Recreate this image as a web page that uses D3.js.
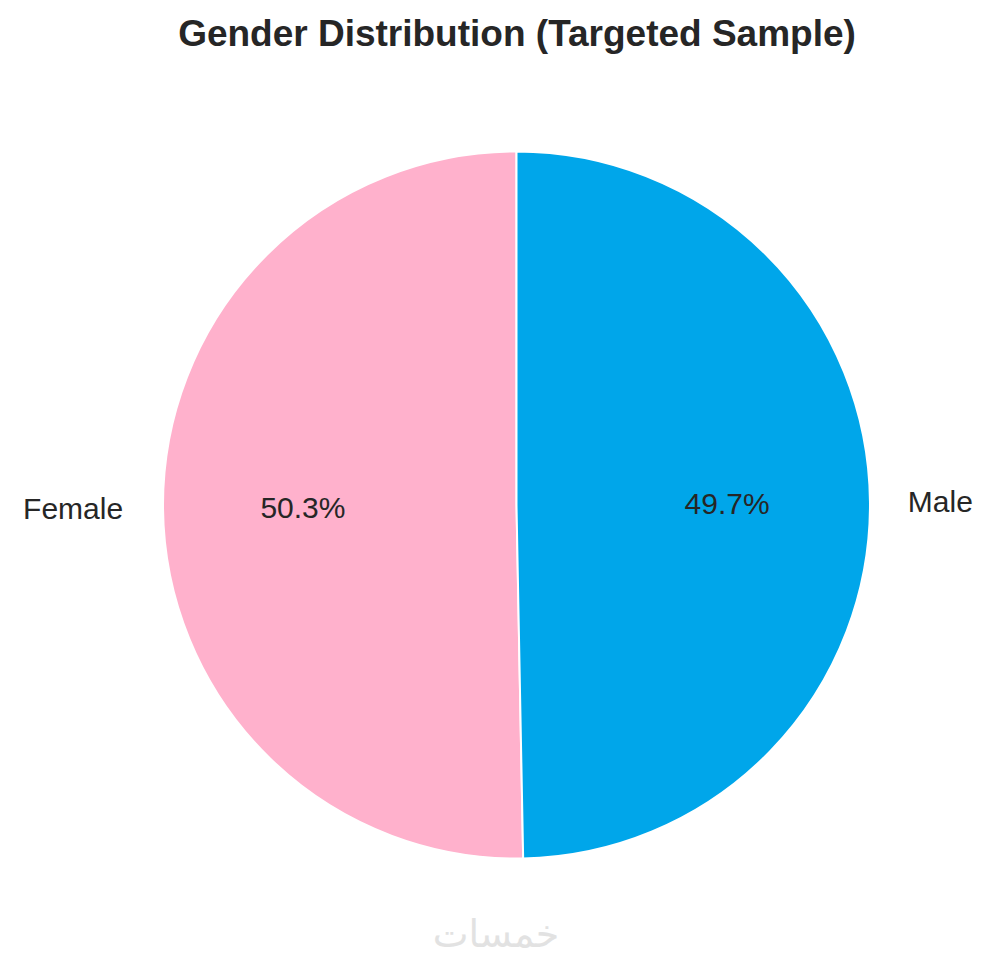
<!DOCTYPE html>
<html>
<head>
<meta charset="utf-8">
<script src="https://cdn.jsdelivr.net/npm/d3@7"></script>
<style>
  body { margin: 0; background: #fff; }
  svg { display: block; }
</style>
</head>
<body>
<svg></svg>
<script>
var categories = ['Female', 'Male'];
var shares = [50.3, 49.7];
var colors = ['#ffb1cc', '#00a6ea'];

var width = 994, height = 968;
var cx = 516.5, cy = 505, radius = 353.5;

var svg = d3.select('svg')
  .attr('width', width)
  .attr('height', height);

svg.append('text')
  .attr('x', 517)
  .attr('y', 45.5)
  .attr('text-anchor', 'middle')
  .style('font-family', '"Liberation Sans", Arial, sans-serif')
  .style('font-weight', 'bold')
  .style('font-size', '37px')
  .style('fill', '#262626')
  .text('Gender Distribution (Targeted Sample)');

var data = categories.map(function(c, i){ return {name: c, value: shares[i], color: colors[i]}; });

// matplotlib style: start at top, go counter-clockwise
var pie = d3.pie()
  .sort(null)
  .value(function(d){ return d.value; })
  .startAngle(0)
  .endAngle(-2 * Math.PI);

var arc = d3.arc().innerRadius(0).outerRadius(radius);

var g = svg.append('g').attr('transform', 'translate(' + cx + ',' + cy + ')');

var slices = pie(data);

g.selectAll('path')
  .data(slices)
  .enter()
  .append('path')
  .attr('d', arc)
  .style('fill', function(d){ return d.data.color; })
  .style('stroke', '#fff')
  .style('stroke-width', 2);

function pos(d, k){
  var a = (d.startAngle + d.endAngle) / 2;
  return [Math.sin(a) * radius * k, -Math.cos(a) * radius * k];
}

var font = '"Liberation Sans", Arial, sans-serif';

g.selectAll('text.pct')
  .data(slices)
  .enter()
  .append('text')
  .attr('class', 'pct')
  .attr('x', function(d){ return pos(d, 0.6)[0] - 1.5; })
  .attr('y', function(d){ return pos(d, 0.6)[1]; })
  .attr('dy', '0.35em')
  .attr('text-anchor', 'middle')
  .style('font-family', font)
  .style('font-size', '30px')
  .style('fill', '#262626')
  .text(function(d){ return d.data.value.toFixed(1) + '%'; });

g.selectAll('text.lbl')
  .data(slices)
  .enter()
  .append('text')
  .attr('class', 'lbl')
  .attr('x', function(d){ return pos(d, 1.11)[0] - 1; })
  .attr('y', function(d){ return pos(d, 1.1)[1]; })
  .attr('dy', '0.35em')
  .attr('text-anchor', function(d){ return pos(d, 1.1)[0] < 0 ? 'end' : 'start'; })
  .style('font-family', font)
  .style('font-size', '30px')
  .style('fill', '#262626')
  .text(function(d){ return d.data.name; });

// watermark
svg.append('text')
  .attr('x', 496)
  .attr('y', 947)
  .attr('text-anchor', 'middle')
  .style('font-family', '"DejaVu Sans", sans-serif')
  .style('font-size', '38px')
  .style('fill', '#e2e2e2')
  .text('خمسات');
</script>
</body>
</html>
